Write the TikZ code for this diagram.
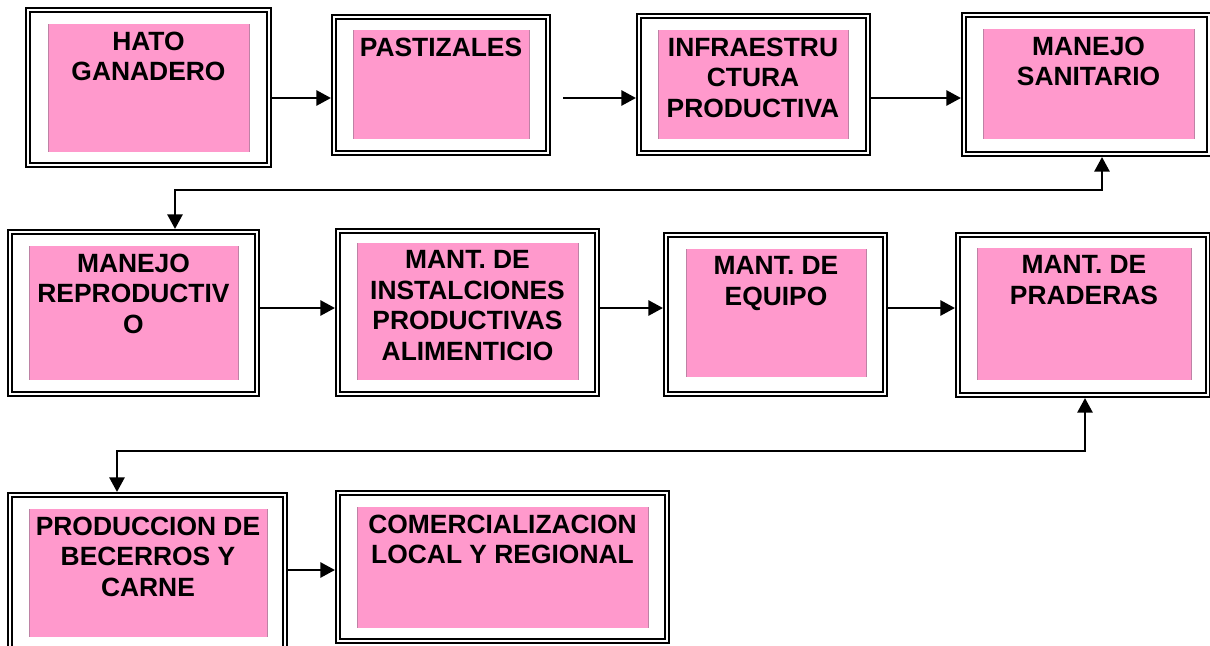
\documentclass[tikz,border=0pt]{standalone}
\usepackage{fontspec}
\setmainfont{Liberation Sans}
\usetikzlibrary{fit,arrows.meta}
\definecolor{rosa}{RGB}{255,153,204}
\definecolor{rosaborde}{RGB}{190,130,165}
\begin{document}
\begin{tikzpicture}[x=0.75pt,y=-0.75pt,
  frame/.style={draw=black, line width=1.6pt, double=white, double distance=1.4pt,
    inner sep=0pt, outer sep=2.3pt, fill=white},
  pinkbox/.style={fill=rosa, inner sep=0pt, outer sep=0pt},
  pinkedge/.style={draw=rosaborde, line width=0.75pt},
  lbl/.style={font=\fontsize{19.8}{22.9}\selectfont\bfseries, align=center,
    inner sep=0pt, anchor=north},
  arr/.style={line width=1.5pt, -{Triangle[length=11pt,width=11.5pt]}},
  arrtwo/.style={line width=1.5pt, {Triangle[length=11pt,width=11.5pt]}-{Triangle[length=11pt,width=11.5pt]}}
]
\path[use as bounding box] (0,0) rectangle (1210,646);
\clip (0,0) rectangle (1210,646);
\fill[white] (0,0) rectangle (1210,646);

% Row 1
\node[frame, fit={(28,10) (269,165)}] (f1) {};
\node[pinkbox, fit={(48,24) (249,152)}] (p1) {};
\node[frame, fit={(334,17) (548,153)}] (f2) {};
\node[pinkbox, fit={(353,30) (529,139)}] (p2) {};
\node[frame, fit={(639,16) (868,153)}] (f3) {};
\node[pinkbox, fit={(658,30) (848,139)}] (p3) {};
\node[frame, fit={(964,15) (1209,154)}] (f4) {};
\node[pinkbox, fit={(983,29) (1194,139)}] (p4) {};

% Row 2
\node[frame, fit={(10,232) (257,394)}] (f5) {};
\node[pinkbox, fit={(29,246) (238,380)}] (p5) {};
\node[frame, fit={(338,231) (597,394)}] (f6) {};
\node[pinkbox, fit={(357,243) (578,380)}] (p6) {};
\node[frame, fit={(666,235) (885,394)}] (f7) {};
\node[pinkbox, fit={(686,249) (866,377)}] (p7) {};
\node[frame, fit={(958,235) (1208,395)}] (f8) {};
\node[pinkbox, fit={(977,248) (1191,380)}] (p8) {};

% Row 3
\node[frame, fit={(10,495) (285,668)}] (f9) {};
\node[pinkbox, fit={(29,509) (267,637)}] (p9) {};
\node[frame, fit={(338,493) (667,641)}] (f10) {};
\node[pinkbox, fit={(357,507) (648,628)}] (p10) {};

\foreach \p in {p1,p2,p3,p4,p5,p6,p7,p8,p9,p10}{
  \draw[pinkedge] (\p.north west) -- (\p.south west) (\p.north east) -- (\p.south east);
}

% Labels
\node[lbl] (t1) at ([yshift=-5.5pt]p1.north) {HATO\\GANADERO};
\node[lbl] (t2) at ([yshift=-5.5pt]p2.north) {PASTIZALES};
\node[lbl] (t3) at ([yshift=-5.5pt]p3.north) {INFRAESTRU\\CTURA\\PRODUCTIVA};
\node[lbl] (t4) at ([yshift=-5.5pt]p4.north) {MANEJO\\SANITARIO};
\node[lbl] (t5) at ([yshift=-5.5pt]p5.north) {MANEJO\\REPRODUCTIV\\O};
\node[lbl] (t6) at ([yshift=-5.5pt]p6.north) {MANT. DE\\INSTALCIONES\\PRODUCTIVAS\\ALIMENTICIO};
\node[lbl] (t7) at ([yshift=-5.5pt]p7.north) {MANT. DE\\EQUIPO};
\node[lbl] (t8) at ([yshift=-5.5pt]p8.north) {MANT. DE\\PRADERAS};
\node[lbl] (t9) at ([yshift=-5.5pt]p9.north) {PRODUCCION DE\\BECERROS Y\\CARNE};
\node[lbl] (t10) at ([yshift=-5.5pt]p10.north) {COMERCIALIZACION\\LOCAL Y REGIONAL};

% Connectors
\coordinate (r1) at (0,98);
\coordinate (r2) at (0,308);
\coordinate (r3) at (0,570);
\coordinate (s3) at (563,98);
\coordinate (c1a) at (1102,190);
\coordinate (c1b) at (175,190);
\coordinate (c2a) at (1085,451);
\coordinate (c2b) at (117,451);

\draw[arr] (f1.east |- r1) -- (f2.west |- r1);
\draw[arr] (s3) -- (f3.west |- r1);
\draw[arr] (f3.east |- r1) -- (f4.west |- r1);
\draw[arrtwo] (f4.south -| c1a) -- (c1a) -- (c1b) -- (f5.north -| c1b);
\draw[arr] (f5.east |- r2) -- (f6.west |- r2);
\draw[arr] (f6.east |- r2) -- (f7.west |- r2);
\draw[arr] (f7.east |- r2) -- (f8.west |- r2);
\draw[arrtwo] (f8.south -| c2a) -- (c2a) -- (c2b) -- (f9.north -| c2b);
\draw[arr] (f9.east |- r3) -- (f10.west |- r3);
\end{tikzpicture}
\end{document}
